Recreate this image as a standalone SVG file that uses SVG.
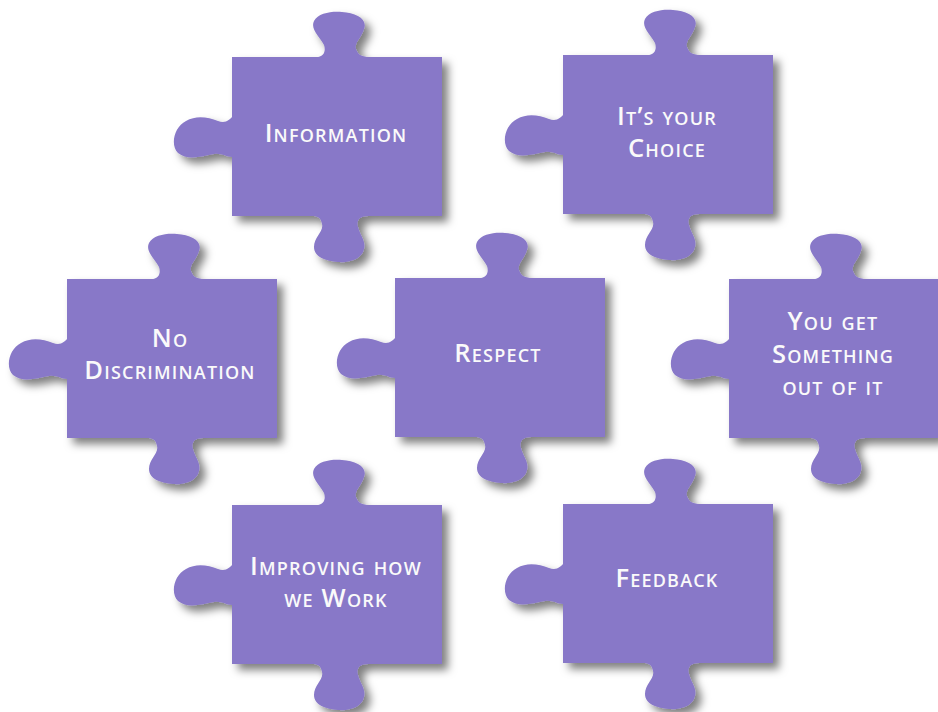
<svg xmlns="http://www.w3.org/2000/svg" xmlns:xlink="http://www.w3.org/1999/xlink" width="938" height="712" viewBox="0 0 938 712">
<style>
.piece{fill:#8878C8;filter:url(#sh);}
.lbl{font-family:"Open Sans",Lato,"Liberation Sans",sans-serif;font-weight:600;font-size:25.5px;letter-spacing:1.2px;font-variant:small-caps;fill:#FAFAFA;text-anchor:middle;}
</style>
<defs>
<filter id="sh" x="-20%" y="-20%" width="150%" height="150%">
<feDropShadow dx="6" dy="6" stdDeviation="4" flood-color="#000" flood-opacity="0.5"/>
</filter>
<path id="pc" d="M0,0 L84,0 C92,0 94,-6 92,-12 C88,-20 78,-28 82,-36 C86,-44 100,-46 110,-45 C124,-44 136,-38 132,-28 C130,-20 122,-14 124,-8 C126,-2 130,0 138,0 L210,0 L210,159 L136,159 C128,159 124,163 126,170 C128,178 134,184 132,192 C130,202 118,206 106,205 C94,204 82,200 82,190 C82,180 92,174 90,167 C89,161 86,159 80,159 L0,159 L0,100 C-6,100 -10,96 -18,97 C-30,99 -44,104 -54,96 C-62,88 -58,70 -46,64 C-36,58 -24,60 -14,64 C-6,67 -2,62 0,60 Z"/>
</defs>
<rect width="938" height="712" fill="#fff"/>
<g id="connectors"></g>
<g id="information">
<use xlink:href="#pc" href="#pc" class="piece" transform="translate(232,57)"/>
<text class="lbl" x="336" y="142">Information</text>
</g>
<g id="choice">
<use xlink:href="#pc" href="#pc" class="piece" transform="translate(563,55)"/>
<text class="lbl" x="667" y="125">It’s your</text>
<text class="lbl" x="667" y="157">Choice</text>
</g>
<g id="discrimination">
<use xlink:href="#pc" href="#pc" class="piece" transform="translate(67,279)"/>
<text class="lbl" x="170" y="347">No</text>
<text class="lbl" x="170" y="379">Discrimination</text>
</g>
<g id="respect">
<use xlink:href="#pc" href="#pc" class="piece" transform="translate(395,278)"/>
<text class="lbl" x="498" y="362">Respect</text>
</g>
<g id="something">
<use xlink:href="#pc" href="#pc" class="piece" transform="translate(729,279)"/>
<text class="lbl" x="833" y="330">You get</text>
<text class="lbl" x="833" y="363">Something</text>
<text class="lbl" x="833" y="395">out of it</text>
</g>
<g id="improving">
<use xlink:href="#pc" href="#pc" class="piece" transform="translate(232,505)"/>
<text class="lbl" x="336" y="575">Improving how</text>
<text class="lbl" x="336" y="607">we Work</text>
</g>
<g id="feedback">
<use xlink:href="#pc" href="#pc" class="piece" transform="translate(563,504)"/>
<text class="lbl" x="667" y="587">Feedback</text>
</g>
</svg>
